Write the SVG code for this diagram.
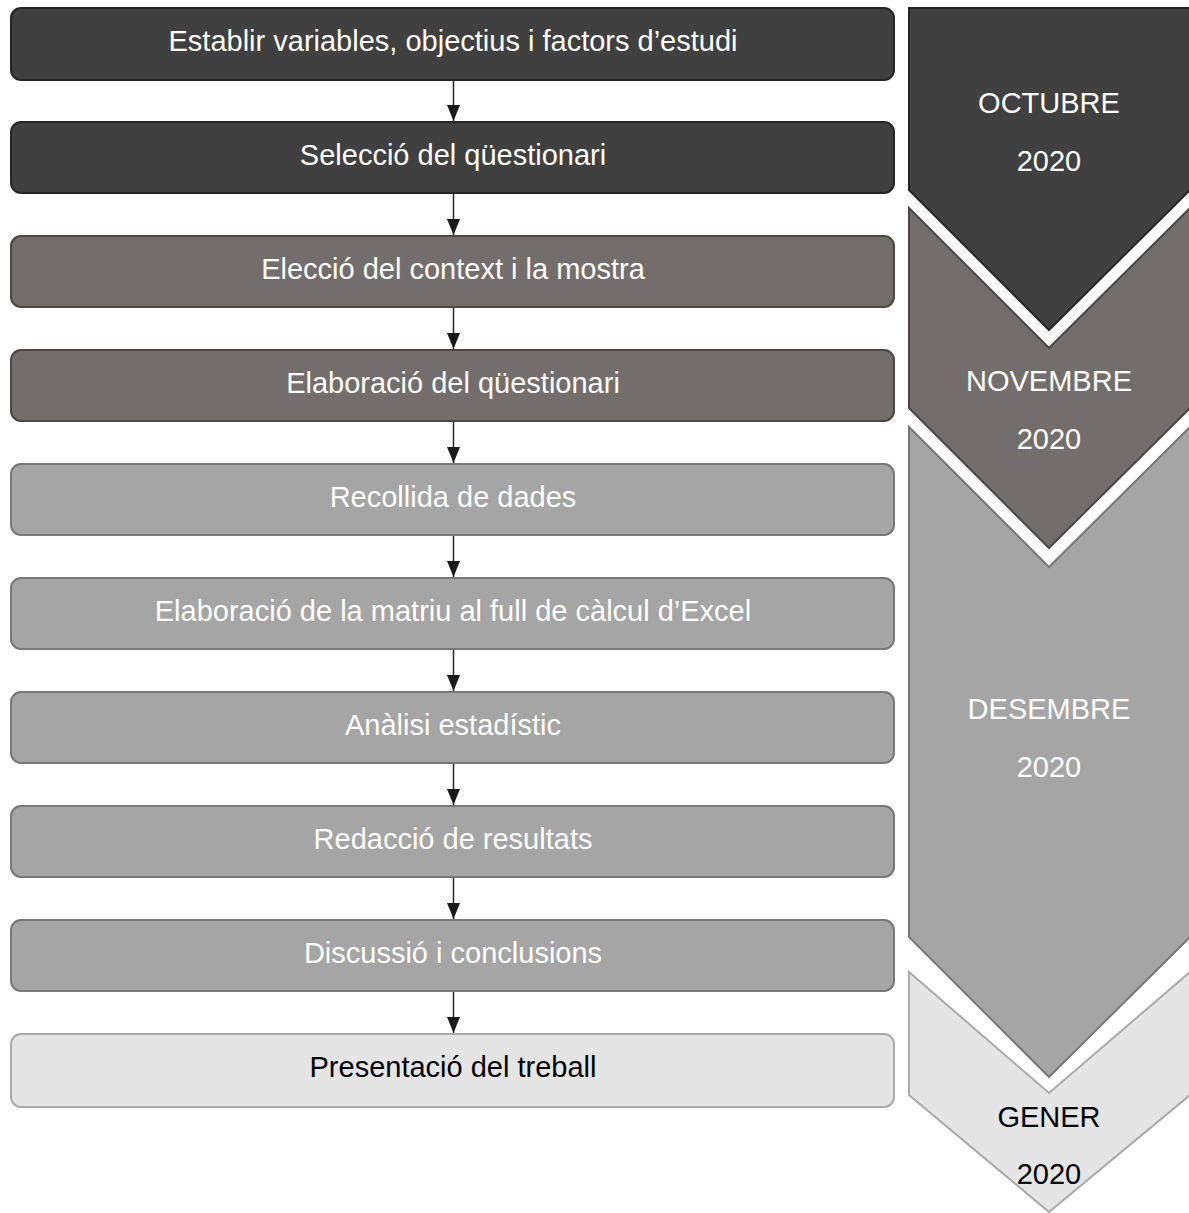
<svg xmlns="http://www.w3.org/2000/svg" width="1189" height="1213" viewBox="0 0 1189 1213">
<style>
.t{font-family:"Liberation Sans",Arial,sans-serif;font-size:29px;text-anchor:middle}
.w{fill:#ffffff}
.k{fill:#000000}
.b1{fill:#404040;stroke:#262626;stroke-width:2}
.b2{fill:#736e6c;stroke:#4a4746;stroke-width:2}
.b3{fill:#a5a5a5;stroke:#7a7777;stroke-width:2}
.b4{fill:#e5e5e5;stroke:#aaaaaa;stroke-width:2}
.c{stroke:#262626;stroke-width:1.5;fill:none}
</style>
<defs>
<marker id="ah" markerWidth="16" markerHeight="13" refX="16" refY="6.5" orient="auto" markerUnits="userSpaceOnUse">
<path d="M0,0 L16,6.5 L0,13 Z" fill="#1a1a1a"/>
</marker>
</defs>
<g id="timeline">
<g id="oct"><path class="b1" d="M909,8 L1190,8 L1190,190 L1049,330 L909,190 Z"/><text class="t w" x="1049" y="112.7">OCTUBRE</text><text class="t w" x="1049" y="170.7">2020</text></g>
<g id="nov"><path class="b2" d="M909,208 L1049,348 L1190,208 L1190,408 L1049,548 L909,408 Z"/><text class="t w" x="1049" y="390.7">NOVEMBRE</text><text class="t w" x="1049" y="449">2020</text></g>
<g id="des"><path class="b3" d="M909,427 L1049,567 L1190,427 L1190,937 L1049,1077 L909,937 Z"/><text class="t w" x="1049" y="718.5">DESEMBRE</text><text class="t w" x="1049" y="776.5">2020</text></g>
<g id="gen"><path class="b4" d="M909,972 L1049,1093 L1190,972 L1190,1095 L1049,1212 L909,1095 Z"/><text class="t k" x="1049" y="1126.5">GENER</text><text class="t k" x="1049" y="1184">2020</text></g>
</g>
<g id="n1"><rect class="b1" x="11" y="8" width="883" height="72" rx="10"/><text class="t w" x="453" y="50.7">Establir variables, objectius i factors d’estudi</text></g>
<g id="n2"><rect class="b1" x="11" y="122" width="883" height="71" rx="10"/><text class="t w" x="453" y="164.7">Selecció del qüestionari</text></g>
<g id="n3"><rect class="b2" x="11" y="236" width="883" height="71" rx="10"/><text class="t w" x="453" y="278.7">Elecció del context i la mostra</text></g>
<g id="n4"><rect class="b2" x="11" y="350" width="883" height="71" rx="10"/><text class="t w" x="453" y="392.7">Elaboració del qüestionari</text></g>
<g id="n5"><rect class="b3" x="11" y="464" width="883" height="71" rx="10"/><text class="t w" x="453" y="506.7">Recollida de dades</text></g>
<g id="n6"><rect class="b3" x="11" y="578" width="883" height="71" rx="10"/><text class="t w" x="453" y="620.7">Elaboració de la matriu al full de càlcul d’Excel</text></g>
<g id="n7"><rect class="b3" x="11" y="692" width="883" height="71" rx="10"/><text class="t w" x="453" y="734.7">Anàlisi estadístic</text></g>
<g id="n8"><rect class="b3" x="11" y="806" width="883" height="71" rx="10"/><text class="t w" x="453" y="848.7">Redacció de resultats</text></g>
<g id="n9"><rect class="b3" x="11" y="920" width="883" height="71" rx="10"/><text class="t w" x="453" y="962.7">Discussió i conclusions</text></g>
<g id="n10"><rect class="b4" x="11" y="1034" width="883" height="73" rx="10"/><text class="t k" x="453" y="1077">Presentació del treball</text></g>
<g id="connectors">
<line class="c" x1="453.5" y1="81" x2="453.5" y2="121" marker-end="url(#ah)"/>
<line class="c" x1="453.5" y1="194" x2="453.5" y2="235" marker-end="url(#ah)"/>
<line class="c" x1="453.5" y1="308" x2="453.5" y2="349" marker-end="url(#ah)"/>
<line class="c" x1="453.5" y1="422" x2="453.5" y2="463" marker-end="url(#ah)"/>
<line class="c" x1="453.5" y1="536" x2="453.5" y2="577" marker-end="url(#ah)"/>
<line class="c" x1="453.5" y1="650" x2="453.5" y2="691" marker-end="url(#ah)"/>
<line class="c" x1="453.5" y1="764" x2="453.5" y2="805" marker-end="url(#ah)"/>
<line class="c" x1="453.5" y1="878" x2="453.5" y2="919" marker-end="url(#ah)"/>
<line class="c" x1="453.5" y1="992" x2="453.5" y2="1033" marker-end="url(#ah)"/>
</g>
</svg>
